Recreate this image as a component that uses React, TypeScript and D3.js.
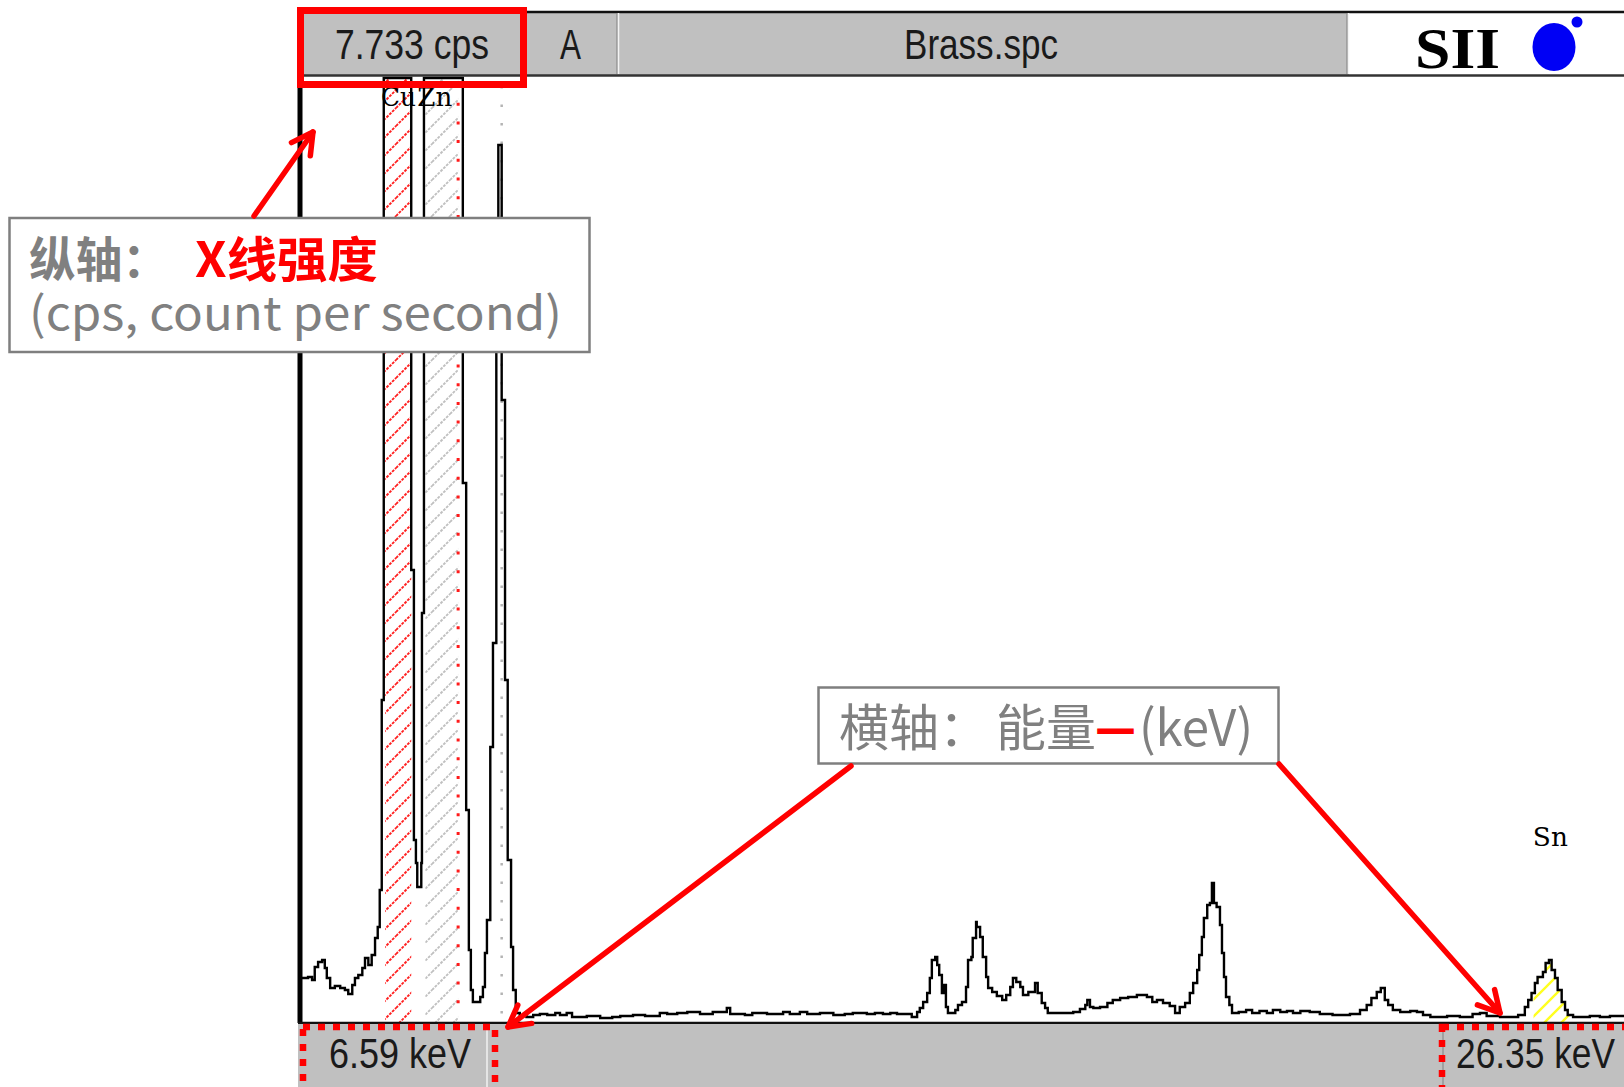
import React from 'react';
import * as d3 from 'd3';

// ---- data ----
const energyDomain: [number, number] = [6.59, 26.35]; // keV, left / right edge
const cpsMax = 7.733; // full scale
const headerLabels = ['7.733 cps', 'A', 'Brass.spc'];
const footerLabels = ['6.59 keV', '26.35 keV'];
const roiCu: [number, number] = [7.86, 8.25];
const roiZn: [number, number] = [8.46, 8.95];
const roiSn: [number, number] = [25.0, 25.56];
const markerCuKb = 8.95;
const markerZnKb = 9.6;
const elementLabels: { text: string; e: number; cps: number }[] = [
  { text: 'Cu', e: 7.8, cps: 7.5 },
  { text: 'Zn', e: 8.34, cps: 7.5 },
  { text: 'Sn', e: 24.99, cps: 1.45 },
];

// [keV, cps] – step spectrum (values above full scale are clipped)
const spectrum: [number, number][] = [
  [6.59, 0.368], [6.71, 0.376], [6.77, 0.352], [6.81, 0.458], [6.86, 0.499], [6.92, 0.516], [6.96, 0.45], [6.99, 0.368],
  [7.04, 0.286], [7.11, 0.303], [7.19, 0.286], [7.26, 0.27], [7.31, 0.237], [7.37, 0.311], [7.41, 0.368], [7.46, 0.393],
  [7.52, 0.45], [7.56, 0.532], [7.61, 0.475], [7.66, 0.556], [7.71, 0.696], [7.75, 0.786], [7.78, 1.088], [7.81, 2.643],
  [7.84, 8.6], [8.25, 3.707], [8.29, 1.497], [8.32, 1.309], [8.34, 1.113], [8.4, 1.309], [8.41, 3.355], [8.44, 8.9],
  [9.02, 4.419], [9.07, 1.743], [9.11, 0.597], [9.14, 0.27], [9.17, 0.172], [9.28, 0.213], [9.32, 0.295], [9.35, 0.573],
  [9.38, 0.843], [9.43, 2.259], [9.47, 3.11], [9.52, 5.589], [9.55, 7.185], [9.6, 5.098], [9.65, 2.807], [9.69, 1.334],
  [9.74, 0.622], [9.77, 0.27], [9.81, 0.082], [9.87, 0.057], [9.97, 0.049], [10.07, 0.065], [10.17, 0.074], [10.28, 0.065],
  [10.4, 0.082], [10.47, 0.065], [10.57, 0.082], [10.65, 0.049], [10.87, 0.057], [11.07, 0.041], [11.25, 0.049], [11.37, 0.057],
  [11.56, 0.065], [11.74, 0.057], [11.96, 0.082], [12.07, 0.074], [12.22, 0.082], [12.37, 0.09], [12.56, 0.074], [12.75, 0.09],
  [12.96, 0.123], [13.01, 0.074], [13.23, 0.065], [13.34, 0.082], [13.56, 0.074], [13.8, 0.09], [13.9, 0.074], [14.05, 0.09],
  [14.16, 0.074], [14.35, 0.082], [14.55, 0.065], [14.72, 0.074], [14.84, 0.082], [15.05, 0.074], [15.17, 0.082], [15.29, 0.074],
  [15.4, 0.082], [15.5, 0.074], [15.72, 0.049], [15.8, 0.09], [15.84, 0.123], [15.89, 0.172], [15.95, 0.245], [15.99, 0.368],
  [16.02, 0.516], [16.07, 0.54], [16.1, 0.475], [16.13, 0.393], [16.17, 0.245], [16.2, 0.311], [16.23, 0.131], [16.26, 0.082],
  [16.37, 0.106], [16.41, 0.147], [16.47, 0.172], [16.53, 0.295], [16.56, 0.516], [16.61, 0.54], [16.63, 0.696], [16.68, 0.826],
  [16.69, 0.786], [16.74, 0.704], [16.78, 0.54], [16.83, 0.376], [16.86, 0.286], [16.92, 0.254], [16.99, 0.221], [17.07, 0.188],
  [17.13, 0.229], [17.19, 0.295], [17.23, 0.368], [17.28, 0.336], [17.34, 0.295], [17.38, 0.229], [17.46, 0.254], [17.56, 0.327],
  [17.6, 0.245], [17.66, 0.164], [17.71, 0.123], [17.75, 0.082], [17.93, 0.082], [18.13, 0.09], [18.23, 0.115], [18.31, 0.147],
  [18.34, 0.188], [18.38, 0.131], [18.43, 0.123], [18.53, 0.131], [18.64, 0.164], [18.72, 0.188], [18.83, 0.205], [18.95, 0.213],
  [19.08, 0.229], [19.23, 0.213], [19.31, 0.172], [19.38, 0.188], [19.47, 0.164], [19.57, 0.139], [19.65, 0.082], [19.72, 0.131],
  [19.8, 0.164], [19.87, 0.245], [19.92, 0.327], [19.98, 0.434], [20.01, 0.556], [20.05, 0.704], [20.08, 0.859], [20.13, 0.966],
  [20.17, 0.982], [20.2, 1.146], [20.23, 0.982], [20.27, 0.949], [20.32, 0.802], [20.35, 0.573], [20.38, 0.376], [20.41, 0.213],
  [20.46, 0.147], [20.5, 0.082], [20.6, 0.09], [20.71, 0.106], [20.8, 0.082], [20.91, 0.098], [21.02, 0.082], [21.11, 0.106],
  [21.22, 0.09], [21.32, 0.098], [21.41, 0.082], [21.52, 0.098], [21.66, 0.09], [21.81, 0.074], [22.0, 0.065], [22.26, 0.074],
  [22.41, 0.106], [22.51, 0.147], [22.58, 0.205], [22.66, 0.254], [22.72, 0.286], [22.78, 0.188], [22.83, 0.147], [22.9, 0.106],
  [23.01, 0.09], [23.16, 0.098], [23.26, 0.09], [23.35, 0.065], [23.46, 0.049], [23.71, 0.057], [23.9, 0.049], [24.09, 0.074],
  [24.2, 0.082], [24.3, 0.057], [24.5, 0.049], [24.77, 0.065], [24.87, 0.131], [24.92, 0.188], [24.97, 0.245], [25.02, 0.327],
  [25.06, 0.376], [25.14, 0.417], [25.18, 0.491], [25.23, 0.516], [25.27, 0.434], [25.32, 0.368], [25.36, 0.27], [25.42, 0.172],
  [25.47, 0.106], [25.51, 0.065], [25.59, 0.049], [25.84, 0.057], [25.99, 0.049], [26.14, 0.057], [26.35, 0.057],
];

const GRAY = '#c0c0c0';
const TXT = '#808080';
const CJK = '"Noto Sans CJK SC", "Noto Sans", sans-serif';
const UI = '"Liberation Sans", Arial, sans-serif';

function Arrow({ x1, y1, x2, y2 }: { x1: number; y1: number; x2: number; y2: number }) {
  const a = Math.atan2(y1 - y2, x1 - x2);
  const L = 24;
  const s = 0.5;
  const p1 = [x2 + L * Math.cos(a + s), y2 + L * Math.sin(a + s)];
  const p2 = [x2 + L * Math.cos(a - s), y2 + L * Math.sin(a - s)];
  return (
    <g stroke="#ff0000" strokeWidth={5.5} fill="none" strokeLinecap="round" strokeLinejoin="round">
      <line x1={x1} y1={y1} x2={x2} y2={y2} />
      <path d={`M${p1[0]},${p1[1]} L${x2},${y2} L${p2[0]},${p2[1]}`} />
    </g>
  );
}

export default function App() {
  const W = 1624;
  const H = 1087;
  const left = 300;
  const right = 1624;
  const top = 78;
  const bottom = 1023;

  const x = d3.scaleLinear().domain(energyDomain).range([left, right]);
  const y = d3.scaleLinear().domain([0, cpsMax]).range([bottom, top]);
  const yc = (v: number) => Math.max(top, y(v));

  const line = d3
    .line<[number, number]>()
    .x((d) => x(d[0]))
    .y((d) => yc(d[1]))
    .curve(d3.curveStepAfter);
  const area = d3
    .area<[number, number]>()
    .x((d) => x(d[0]))
    .y0(bottom)
    .y1((d) => yc(d[1]))
    .curve(d3.curveStepAfter);

  const areaPath = area(spectrum) || '';
  const linePath = line(spectrum) || '';

  const rois: { id: string; r: [number, number]; fill: string }[] = [
    { id: 'cu', r: roiCu, fill: 'url(#hatchRed)' },
    { id: 'zn', r: roiZn, fill: 'url(#hatchGray)' },
    { id: 'sn', r: roiSn, fill: 'url(#hatchYellow)' },
  ];

  const headerCells = [
    { x0: 299, x1: 523 },
    { x0: 523, x1: 618 },
    { x0: 618, x1: 1348 },
  ];

  return (
    <svg
      width={W}
      height={H}
      viewBox={`0 0 ${W} ${H}`}
      style={{ position: 'absolute', left: 0, top: 0, background: '#fff' }}
    >
      <defs>
        <pattern id="hatchRed" patternUnits="userSpaceOnUse" width={18} height={18}>
          <path
            d="M0,18 L18,0 M-4.5,4.5 L4.5,-4.5 M13.5,22.5 L22.5,13.5"
            stroke="#ff2020"
            strokeWidth={1.9}
            strokeDasharray="2.8 1.2"
          />
        </pattern>
        <pattern id="hatchGray" patternUnits="userSpaceOnUse" width={18} height={18}>
          <path
            d="M0,18 L18,0 M-4.5,4.5 L4.5,-4.5 M13.5,22.5 L22.5,13.5"
            stroke="#c0c0c0"
            strokeWidth={1.9}
            strokeDasharray="2.8 1.2"
          />
        </pattern>
        <pattern id="hatchYellow" patternUnits="userSpaceOnUse" width={17} height={17}>
          <path
            d="M0,17 L17,0 M-4.25,4.25 L4.25,-4.25 M12.75,21.25 L21.25,12.75"
            stroke="#ffff20"
            strokeWidth={2.4}
          />
        </pattern>
        {rois.map((r) => (
          <clipPath key={r.id} id={`clip-${r.id}`}>
            <rect x={x(r.r[0])} y={top} width={x(r.r[1]) - x(r.r[0])} height={bottom - top} />
          </clipPath>
        ))}
        <clipPath id="plotClip">
          <rect x={left} y={top - 2} width={right - left} height={bottom - top + 2} />
        </clipPath>
      </defs>

      {/* plot area */}
      <rect x={left} y={top} width={right - left} height={bottom - top} fill="#fff" />

      {rois.map((r) => (
        <path key={r.id} d={areaPath} fill={r.fill} clipPath={`url(#clip-${r.id})`} />
      ))}

      {/* Kβ markers */}
      <line
        x1={x(markerCuKb)}
        x2={x(markerCuKb)}
        y1={top + 6}
        y2={bottom - 4}
        stroke="#ff1a1a"
        strokeWidth={3}
        strokeDasharray="3 15.7"
      />
      <line
        x1={x(markerZnKb)}
        x2={x(markerZnKb)}
        y1={top + 8}
        y2={bottom - 4}
        stroke="#b4b4b4"
        strokeWidth={2.5}
        strokeDasharray="2.5 16"
      />

      <g clipPath="url(#plotClip)">
        <path d={linePath} fill="none" stroke="#000" strokeWidth={2.4} strokeLinejoin="miter" />
      </g>

      {/* element labels */}
      {elementLabels.map((l) => (
        <text
          key={l.text}
          x={x(l.e)}
          y={y(l.cps)}
          fontFamily='"DejaVu Serif", "Liberation Serif", serif'
          fontSize={26}
          fill="#000"
          textLength={35}
          lengthAdjust="spacingAndGlyphs"
        >
          {l.text}
        </text>
      ))}

      {/* left axis & bottom axis */}
      <line x1={left} x2={left} y1={top - 2} y2={bottom} stroke="#000" strokeWidth={5} />
      <line x1={left - 2} x2={right} y1={bottom} y2={bottom} stroke="#111" strokeWidth={2.5} />

      {/* header */}
      <rect x={299} y={12} width={1349 - 299} height={63} fill={GRAY} />
      <rect x={1349} y={12} width={W - 1349} height={63} fill="#fff" />
      <line x1={297} x2={W} y1={12} y2={12} stroke="#111" strokeWidth={2.5} />
      <line x1={297} x2={W} y1={75.5} y2={75.5} stroke="#333" strokeWidth={2.5} />
      {headerCells.map((c, i) => (
        <g key={i}>
          <line x1={c.x1 - 1} x2={c.x1 - 1} y1={13} y2={74} stroke="#8a8a8a" strokeWidth={1.2} />
          <line x1={c.x1 + 0.5} x2={c.x1 + 0.5} y1={13} y2={74} stroke="#f4f4f4" strokeWidth={1.5} />
        </g>
      ))}
      <text x={335} y={59} fontFamily={UI} fontSize={43} fill="#1a1a1a" textLength={154} lengthAdjust="spacingAndGlyphs">
        {headerLabels[0]}
      </text>
      <text x={560} y={59} fontFamily={UI} fontSize={43} fill="#1a1a1a" textLength={21} lengthAdjust="spacingAndGlyphs">
        {headerLabels[1]}
      </text>
      <text x={904} y={59} fontFamily={UI} fontSize={43} fill="#1a1a1a" textLength={154} lengthAdjust="spacingAndGlyphs">
        {headerLabels[2]}
      </text>
      <text
        x={1415}
        y={68}
        fontFamily='"Liberation Serif", "Times New Roman", serif'
        fontWeight="bold"
        fontSize={58}
        fill="#000"
        textLength={85}
        lengthAdjust="spacingAndGlyphs"
      >
        SII
      </text>
      <ellipse cx={1554} cy={47} rx={21.5} ry={24} fill="#0000f5" />
      <circle cx={1577} cy={22} r={5.5} fill="#0000f5" />

      {/* red box around cps */}
      <rect x={300.5} y={10.5} width={223} height={74} fill="none" stroke="#ff0000" strokeWidth={7} />

      {/* footer */}
      <rect x={left - 2} y={bottom + 1.5} width={W - left + 2} height={H - bottom} fill={GRAY} />
      <line x1={487} x2={487} y1={bottom + 2} y2={H} stroke="#f2f2f2" strokeWidth={1.5} />
      <line x1={1443} x2={1443} y1={bottom + 2} y2={H} stroke="#8a8a8a" strokeWidth={1.2} />
      <text x={329} y={1068} fontFamily={UI} fontSize={43} fill="#1a1a1a" textLength={142} lengthAdjust="spacingAndGlyphs">
        {footerLabels[0]}
      </text>
      <text x={1456} y={1068} fontFamily={UI} fontSize={43} fill="#1a1a1a" textLength={159} lengthAdjust="spacingAndGlyphs">
        {footerLabels[1]}
      </text>
      <rect x={303} y={1027} width={192} height={90} fill="none" stroke="#ff0000" strokeWidth={6.5} strokeDasharray="7 8" />
      <rect x={1442} y={1027} width={220} height={90} fill="none" stroke="#ff0000" strokeWidth={6.5} strokeDasharray="7 8" />

      {/* annotation: vertical axis */}
      <rect x={9.5} y={218} width={580} height={134} fill="#fff" stroke="#7f7f7f" strokeWidth={2.5} />
      <text x={29} y={277} fontFamily={CJK} fontWeight="bold" fontSize={48} fill={TXT} textLength={140} lengthAdjust="spacingAndGlyphs">
        纵轴：
      </text>
      <text x={195} y={277} fontFamily={CJK} fontWeight="bold" fontSize={48} fill="#ff0000" textLength={183} lengthAdjust="spacingAndGlyphs">
        X线强度
      </text>
      <text x={29} y={330} fontFamily={CJK} fontSize={46} fill={TXT} textLength={533} lengthAdjust="spacingAndGlyphs">
        (cps, count per second)
      </text>

      {/* annotation: horizontal axis */}
      <rect x={818.5} y={687.5} width={460} height={76} fill="#fff" stroke="#7f7f7f" strokeWidth={2.5} />
      <text x={839} y={746} fontFamily={CJK} fontSize={50} fill={TXT}>
        横轴：
      </text>
      <text x={996} y={746} fontFamily={CJK} fontSize={50} fill={TXT}>
        能量
      </text>
      <text
        x={1095}
        y={746}
        fontFamily={CJK}
        fontWeight="900"
        fontSize={50}
        fill="#ff0000"
        textLength={41}
        lengthAdjust="spacingAndGlyphs"
      >
        —
      </text>
      <text x={1139} y={746} fontFamily={CJK} fontSize={50} fill={TXT} textLength={114} lengthAdjust="spacingAndGlyphs">
        (keV)
      </text>

      {/* arrows */}
      <Arrow x1={254} y1={216} x2={313} y2={132} />
      <Arrow x1={851} y1={766} x2={508} y2={1027} />
      <Arrow x1={1279} y1={764} x2={1500} y2={1013} />
    </svg>
  );
}
